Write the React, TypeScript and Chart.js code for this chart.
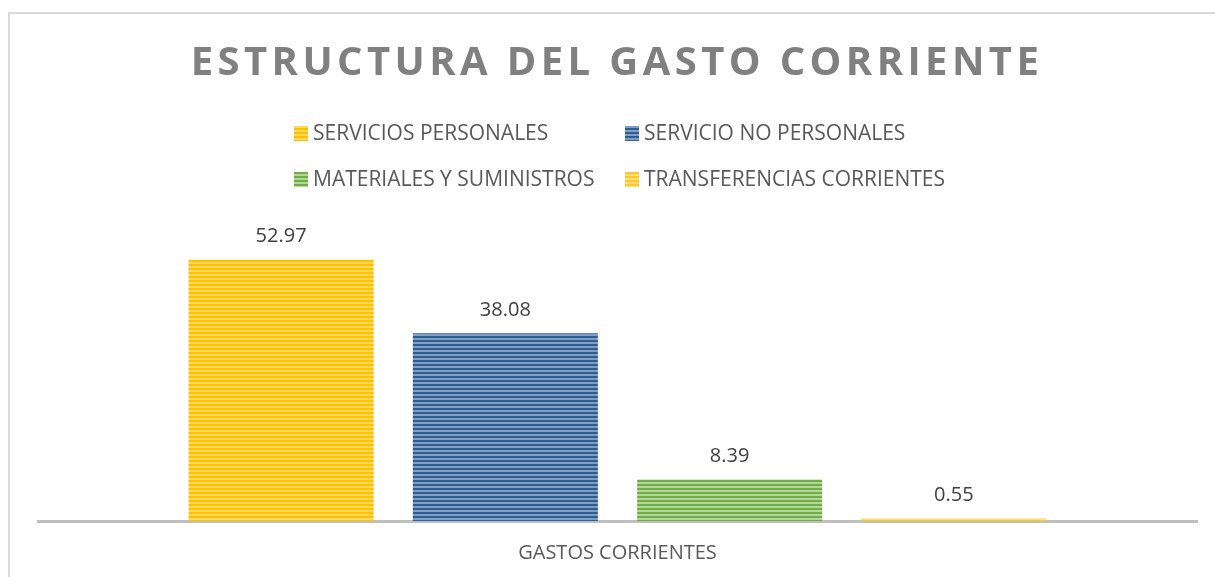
import React, { useEffect, useRef } from "react";
import { Chart, registerables } from "chart.js";

Chart.register(...registerables);

const chartTitle = "ESTRUCTURA DEL GASTO CORRIENTE";
const categories = ["GASTOS CORRIENTES"];
const seriesLabels = [
  "SERVICIOS PERSONALES",
  "SERVICIO NO PERSONALES",
  "MATERIALES Y SUMINISTROS",
  "TRANSFERENCIAS CORRIENTES",
];
const seriesValues = [52.97, 38.08, 8.39, 0.55];
const seriesDark = ["#FFC000", "#2E5E91", "#70AD47", "#FFC629"];
const seriesLight = ["#FFD95C", "#7F9FC6", "#B3D69B", "#FFDF7A"];

function stripePattern(dark: string, light: string): CanvasPattern | string {
  const c = document.createElement("canvas");
  c.width = 4;
  c.height = 4;
  const g = c.getContext("2d");
  if (!g) return dark;
  g.fillStyle = light;
  g.fillRect(0, 0, 4, 4);
  g.fillStyle = dark;
  g.fillRect(0, 0, 4, 2);
  const p = g.createPattern(c, "repeat");
  return p || dark;
}

const titlePlugin = {
  id: "customTitle",
  afterDraw(chart: any) {
    const ctx = chart.ctx as CanvasRenderingContext2D;
    ctx.save();
    ctx.font = "bold 40px 'Open Sans'";
    (ctx as any).letterSpacing = "4.4px";
    ctx.fillStyle = "#808080";
    ctx.textAlign = "center";
    ctx.textBaseline = "alphabetic";
    ctx.fillText(chartTitle, 617, 75);
    ctx.restore();
  },
};

const legendPlugin = {
  id: "customLegend",
  afterDraw(chart: any) {
    const ctx = chart.ctx as CanvasRenderingContext2D;
    const colX = [294, 625];
    const rowY = [133, 179];
    ctx.save();
    ctx.font = "21px 'Open Sans'";
    ctx.textBaseline = "middle";
    ctx.textAlign = "left";
    chart.data.datasets.forEach((ds: any, i: number) => {
      const x = colX[i % 2];
      const y = rowY[Math.floor(i / 2)];
      ctx.fillStyle = ds.backgroundColor;
      ctx.fillRect(x, y - 7, 14, 15);
      ctx.fillStyle = "#595959";
      ctx.fillText(ds.label, x + 19, y + 1);
    });
    ctx.restore();
  },
};

const valueLabelPlugin = {
  id: "valueLabels",
  afterDatasetsDraw(chart: any) {
    const ctx = chart.ctx as CanvasRenderingContext2D;
    ctx.save();
    ctx.font = "20px 'Open Sans'";
    ctx.fillStyle = "#404040";
    ctx.textAlign = "center";
    ctx.textBaseline = "middle";
    chart.data.datasets.forEach((ds: any, i: number) => {
      const meta = chart.getDatasetMeta(i);
      meta.data.forEach((el: any, j: number) => {
        const v = ds.data[j] as number;
        ctx.fillText(v.toFixed(2), el.x, el.y - 23);
      });
    });
    ctx.restore();
  },
};

export default function App() {
  const ref = useRef<HTMLCanvasElement | null>(null);

  useEffect(() => {
    if (!ref.current) return;
    const datasets = seriesLabels.map((label, i) => ({
      label,
      data: [seriesValues[i]],
      backgroundColor: stripePattern(seriesDark[i], seriesLight[i]) as any,
      borderWidth: 0,
      categoryPercentage: 0.774,
      barPercentage: 0.825,
    }));
    const chart = new Chart(ref.current, {
      type: "bar",
      data: { labels: categories, datasets },
      options: {
        responsive: false,
        animation: false,
        layout: { padding: { top: 225, left: 38, right: 18, bottom: -8 } },
        plugins: {
          legend: { display: false },
          title: { display: false },
          tooltip: { enabled: false },
        },
        scales: {
          x: {
            grid: { display: false, drawTicks: false },
            border: { display: true, color: "#BFBFBF", width: 3 },
            ticks: {
              color: "#595959",
              font: { family: "'Open Sans'", size: 20 },
              padding: 20,
            },
          },
          y: {
            display: false,
            min: 0,
            max: 60,
          },
        },
      },
      plugins: [titlePlugin, legendPlugin, valueLabelPlugin],
    });
    return () => chart.destroy();
  }, []);

  return (
    <>
      <div
        style={{
          position: "absolute",
          left: 8,
          top: 12,
          width: 1207,
          height: 565,
          boxSizing: "border-box",
          borderTop: "2px solid #D9D9D9",
          borderLeft: "2px solid #D9D9D9",
        }}
      />
      <canvas
        ref={ref}
        width={1215}
        height={577}
        style={{ position: "absolute", left: 0, top: 0, width: 1215, height: 577 }}
      />
    </>
  );
}
